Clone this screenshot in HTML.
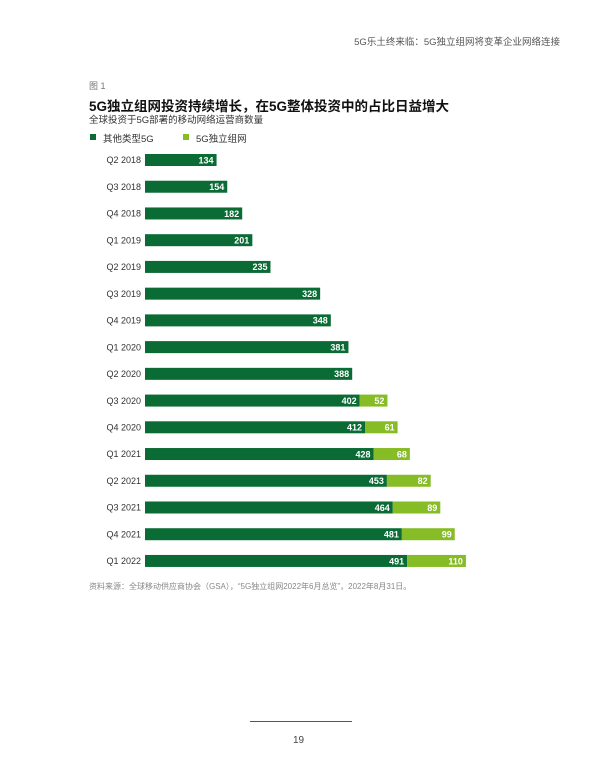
<!DOCTYPE html>
<html><head><meta charset="utf-8"><style>
body{margin:0;width:600px;height:776px;background:#fff;font-family:"Liberation Sans","Noto Sans CJK SC",sans-serif;position:relative;overflow:hidden}
.t{position:absolute;white-space:nowrap}
</style></head><body>
<div class="t" style="right:40px;top:34px;font-size:9.5px;color:#555">5G乐土终来临：5G独立组网将变革企业网络连接</div>
<div class="t" style="left:89px;top:79px;font-size:9px;color:#777">图 1</div>
<div class="t" style="left:89px;top:95px;font-size:13.5px;font-weight:bold;color:#111">5G独立组网投资持续增长，在5G整体投资中的占比日益增大</div>
<div class="t" style="left:89px;top:112px;font-size:9.5px;color:#333">全球投资于5G部署的移动网络运营商数量</div>
<div>
<div style="position:absolute;left:90px;top:134px;width:6px;height:6px;background:#0b6b35"></div>
<div class="t" style="left:103px;top:131px;font-size:9.5px;color:#333">其他类型5G</div>
<div style="position:absolute;left:183px;top:134px;width:6px;height:6px;background:#86bc25"></div>
<div class="t" style="left:196px;top:131px;font-size:9.5px;color:#333">5G独立组网</div>
</div>
<svg id="chart" style="position:absolute;left:0;top:0" width="600" height="776"></svg>
<div class="t" style="left:89px;top:581px;font-size:8px;color:#888">资料来源：全球移动供应商协会（GSA），“5G独立组网2022年6月总览”，2022年8月31日。</div>
<div style="position:absolute;left:250px;top:721px;width:102px;height:1px;background:#555"></div>
<div class="t" style="left:293px;top:735px;font-size:10px;color:#444">19</div>
<script>
const categories=["Q2 2018","Q3 2018","Q4 2018","Q1 2019","Q2 2019","Q3 2019","Q4 2019","Q1 2020","Q2 2020","Q3 2020","Q4 2020","Q1 2021","Q2 2021","Q3 2021","Q4 2021","Q1 2022"];
const otherValues=[134,154,182,201,235,328,348,381,388,402,412,428,453,464,481,491];
const saValues=[0,0,0,0,0,0,0,0,0,52,61,68,82,89,99,110];
const svg=document.getElementById('chart');
const NS="http://www.w3.org/2000/svg";
const x0=145,k=0.534,y0=160,step=26.73,bh=12;
const xs=v=>v*k;
const yc=i=>y0+i*step;
function mk(tag,attrs){const e=document.createElementNS(NS,tag);for(const a in attrs)e.setAttribute(a,attrs[a]);svg.appendChild(e);return e;}
categories.forEach((c,i)=>{
  const y=yc(i);
  const l=mk('text',{x:141,y:y+3.2,'text-anchor':'end','font-size':'9',fill:'#333'});
  l.textContent=c;
  
  
  const w1=xs(otherValues[i]);
  const r=mk('rect',{x:x0,y:y-bh/2,width:w1,height:bh,fill:'#0b6b35'});
  
  
  const t=mk('text',{x:x0+w1-3,y:y+3.3,'text-anchor':'end','font-size':'9','font-weight':'bold',fill:'#fff'});
  t.textContent=otherValues[i];
  
  
  if(saValues[i]>0){
    const w2=xs(saValues[i]);
    const r2=mk('rect',{x:x0+w1,y:y-bh/2,width:w2,height:bh,fill:'#86bc25'});
    
    
    const t2=mk('text',{x:x0+w1+w2-3,y:y+3.3,'text-anchor':'end','font-size':'9','font-weight':'bold',fill:'#fff'});
    t2.textContent=saValues[i];
    
    
  }
});
</script>
</body></html>
